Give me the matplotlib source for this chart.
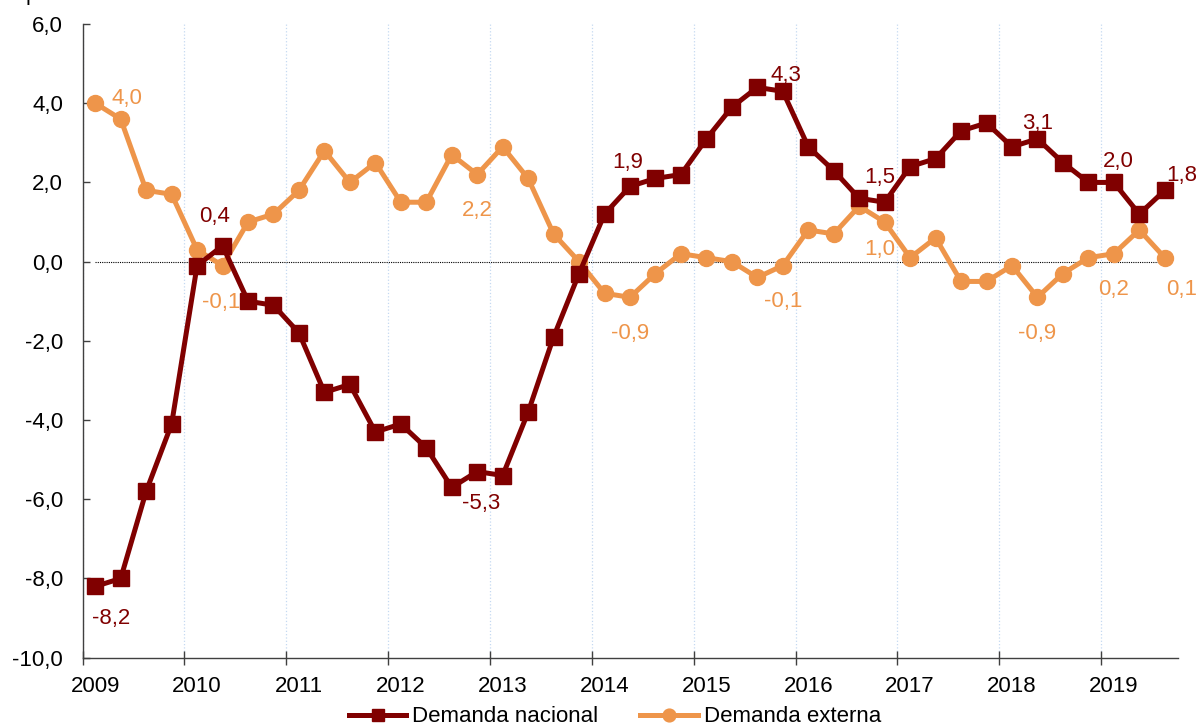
import numpy as np
import matplotlib
matplotlib.use('Agg')
import matplotlib.pyplot as plt
from matplotlib.ticker import FuncFormatter

plt.rcParams['font.family'] = ['Liberation Sans', 'DejaVu Sans']
plt.rcParams['axes.unicode_minus'] = False

# === Data (quarterly, 2009 Q1 .. 2019 Q3) ===
years = ['2009', '2010', '2011', '2012', '2013', '2014',
         '2015', '2016', '2017', '2018', '2019']
nacional = [-8.2, -8.0, -5.8, -4.1,
            -0.1, 0.4, -1.0, -1.1,
            -1.8, -3.3, -3.1, -4.3,
            -4.1, -4.7, -5.7, -5.3,
            -5.4, -3.8, -1.9, -0.3,
            1.2, 1.9, 2.1, 2.2,
            3.1, 3.9, 4.4, 4.3,
            2.9, 2.3, 1.6, 1.5,
            2.4, 2.6, 3.3, 3.5,
            2.9, 3.1, 2.5, 2.0,
            2.0, 1.2, 1.8]
externa = [4.0, 3.6, 1.8, 1.7,
           0.3, -0.1, 1.0, 1.2,
           1.8, 2.8, 2.0, 2.5,
           1.5, 1.5, 2.7, 2.2,
           2.9, 2.1, 0.7, 0.0,
           -0.8, -0.9, -0.3, 0.2,
           0.1, 0.0, -0.4, -0.1,
           0.8, 0.7, 1.4, 1.0,
           0.1, 0.6, -0.5, -0.5,
           -0.1, -0.9, -0.3, 0.1,
           0.2, 0.8, 0.1]

# which points get a data label
lab_nacional = [0, 5, 15, 21, 27, 31, 37, 40, 42]
lab_externa = [0, 5, 15, 21, 27, 31, 37, 40, 42]

# label offsets in pixels (dx, dy up)
off_nacional = [(16, -32), (-8, 29), (4, -32), (-2, 24), (3, 16),
                (-5, 25), (0, 15), (4, 21), (17, 15)]
off_externa = [(32, 5), (-1, -37), (0, -36), (0, -36), (0, -36),
               (-5, -27), (0, -36), (0, -36), (17, -32)]

c_nac = '#800000'
c_ext = '#EE954A'
axis_col = '#404040'
fs = 16

n = len(nacional)
x = np.arange(n) + 0.5

fig = plt.figure(figsize=(11.97, 7.27), dpi=100)
ax = fig.add_axes([82.5/1197, 1-657.7/727, 1095/1197, 633.7/727])

# zero reference line between first and last quarter
ax.plot([x[0], x[-1]], [0, 0], color='black', lw=0.8, ls=(0, (1, 1)), zorder=2)

ax.plot(x, nacional, color=c_nac, lw=3.6, marker='s', markersize=11.5,
        label='Demanda nacional', zorder=4)
ax.plot(x, externa, color=c_ext, lw=3.6, marker='o', markersize=11.5,
        label='Demanda externa', zorder=3)

for i, (dx, dy) in zip(lab_nacional, off_nacional):
    ax.annotate(f'{nacional[i]:.1f}'.replace('.', ','), (x[i], nacional[i]),
                xytext=(dx, dy), textcoords='offset pixels', ha='center',
                va='center', color=c_nac, fontsize=fs, zorder=6)
for i, (dx, dy) in zip(lab_externa, off_externa):
    ax.annotate(f'{externa[i]:.1f}'.replace('.', ','), (x[i], externa[i]),
                xytext=(dx, dy), textcoords='offset pixels', ha='center',
                va='center', color=c_ext, fontsize=fs, zorder=6)

ax.set_xlim(0, n)
ax.set_ylim(-10, 6)
ax.set_yticks(np.arange(-10, 6.1, 2))
ax.yaxis.set_major_formatter(FuncFormatter(lambda v, p: f'{v:.1f}'.replace('.', ',')))

# year labels on first quarter, ticks on year boundaries
ax.set_xticks(np.arange(0, n, 4) + 0.5)
ax.set_xticklabels(years)
ax.set_xticks(np.arange(0, n, 4), minor=True)
ax.tick_params(axis='x', which='major', length=0, pad=13, labelsize=fs)
ax.tick_params(axis='x', which='minor', direction='inout', length=9.5,
               width=1, color=axis_col)
ax.tick_params(axis='y', direction='in', length=5, width=1, color=axis_col,
               pad=14, labelsize=fs)
ax.grid(which='minor', axis='x', color='#C5D9F1', ls=':', lw=0.9)

for s in ['top', 'right']:
    ax.spines[s].set_visible(False)
for s in ['left', 'bottom']:
    ax.spines[s].set_color(axis_col)
    ax.spines[s].set_linewidth(1)

fig.legend(loc='center', bbox_to_anchor=(0.5136, 0.0138), ncol=2, frameon=False,
           fontsize=fs, handlelength=2.6, handletextpad=0.25, columnspacing=1.9,
           borderpad=0, markerscale=0.8)

# clipped unit text at top edge
fig.text(26/1197, 1.0, 'p', fontsize=fs, va='baseline')

plt.savefig('out.png', dpi=100)
